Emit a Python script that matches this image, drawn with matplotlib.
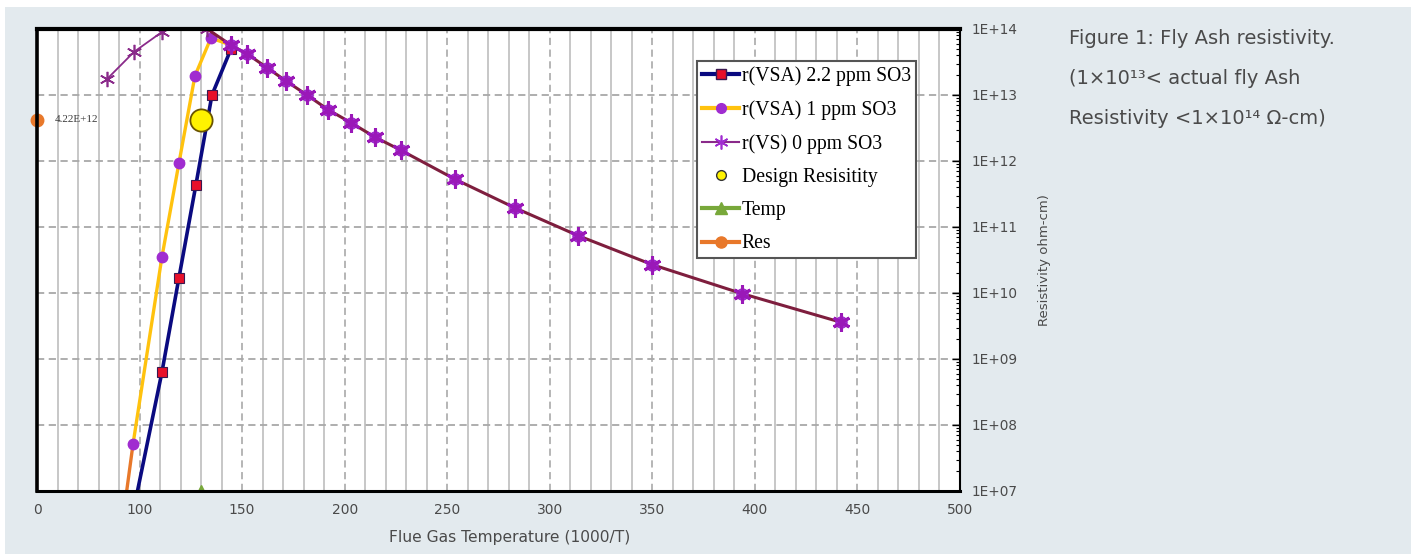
import matplotlib
matplotlib.use("Agg")
import matplotlib.pyplot as plt
from matplotlib.lines import Line2D
from matplotlib.patches import Rectangle
from matplotlib.ticker import LogLocator, NullFormatter, FixedLocator, MultipleLocator

# ---------------- data ----------------
# x axis positions (axis runs 50..500, first tick is labelled "0" in the source)
x_ticks = [50, 100, 150, 200, 250, 300, 350, 400, 450, 500]
x_tick_labels = ["0", "100", "150", "200", "250", "300", "350", "400", "450", "500"]
y_ticks = [1e7, 1e8, 1e9, 1e10, 1e11, 1e12, 1e13, 1e14]
y_tick_labels = ["1E+07", "1E+08", "1E+09", "1E+10", "1E+11", "1E+12", "1E+13", "1E+14"]

# r(VSA) 2.2 ppm SO3 (rising branch)
vsa22_x = [97.0, 110.9, 119.2, 127.5, 135.3, 144.6]
vsa22_y = [5.0e6, 6.3e8, 1.7e10, 4.4e11, 1.0e13, 5.0e13]

# r(VSA) 1 ppm SO3 (rising branch)
vsa1_x = [96.8, 110.9, 119.2, 127.0, 134.8]
vsa1_y = [5.1e7, 3.5e10, 9.3e11, 1.95e13, 7.3e13]

# r(VS) 0 ppm SO3 (rising branch)
vs0_x = [84.1, 97.3, 110.9, 122.0, 133.0]
vs0_y = [1.74e13, 4.5e13, 9.0e13, 1.5e14, 1.0e14]

# shared descending branch
tail_x = [144.6, 152.4, 162.1, 171.4, 181.6, 191.9, 203.1, 214.8, 227.5,
          253.8, 283.0, 313.8, 349.8, 393.7, 442.0]
tail_y = [5.7e13, 4.2e13, 2.6e13, 1.63e13, 1.0e13, 6.0e12, 3.8e12, 2.3e12, 1.45e12,
          5.3e11, 1.95e11, 7.4e10, 2.7e10, 9.8e9, 3.6e9]

# Res (orange) segment and point
res_line_x = [92.0, 96.8]
res_line_y = [4.0e6, 5.1e7]
res_x = [50]
res_y = [4.22e12]
res_label = "4.22E+12"

# Design resistivity
design_x = [130.0]
design_y = [4.22e12]

# Temp
temp_x = [130.0]
temp_y = [1.0e7]

legend_labels = ["r(VSA) 2.2 ppm SO3", "r(VSA) 1 ppm SO3", "r(VS) 0 ppm SO3",
                 "Design Resisitity", "Temp", "Res"]

caption_lines = ["Figure 1: Fly Ash resistivity.",
                 "(1×10¹³< actual fly Ash",
                 "Resistivity <1×10¹⁴ Ω-cm)"]

# ---------------- style ----------------
W, H = 1417, 557
BG = "#E3EAEE"
TXT = "#4A4A4A"
SANS = ["DejaVu Sans"]
SERIF = ["Liberation Serif", "DejaVu Serif"]

NAVY = "#0A0A80"
RED = "#E8102A"
YEL = "#FFC20E"
PUR_C = "#A02CD0"
PUR_S = "#8A2A8A"
MAROON = "#7E1E3E"
ORANGE = "#E8782A"
GREEN = "#78A83A"
STAR = (6, 2, 0)

fig = plt.figure(figsize=(W / 100, H / 100), dpi=100, facecolor="white")
fig.patches.append(Rectangle((5 / W, 3 / H), 1406 / W, 547 / H, transform=fig.transFigure,
                             facecolor=BG, edgecolor="none", zorder=-10))

ax = fig.add_axes([37 / W, (H - 491) / H, 923 / W, 462 / H])
ax.set_facecolor("white")
ax.set_yscale("log")
ax.set_xlim(50, 500)
ax.set_ylim(1e7, 1e14)

# grid
ax.xaxis.set_major_locator(FixedLocator(x_ticks))
ax.xaxis.set_minor_locator(MultipleLocator(10))
ax.set_xticklabels(x_tick_labels)
ax.grid(which="minor", axis="x", color="#BDBDBD", lw=1.2, ls="-", zorder=0)
ax.grid(which="major", axis="x", color="#B0B0B0", lw=1.3, ls=(0, (4, 2.5)), zorder=0)
ax.grid(which="major", axis="y", color="#A8A8A8", lw=1.3, ls=(0, (4, 2.5)), zorder=0)

ax.yaxis.set_major_locator(FixedLocator(y_ticks))
ax.yaxis.set_minor_locator(LogLocator(base=10, subs=range(2, 10)))
ax.yaxis.set_minor_formatter(NullFormatter())
ax.set_yticklabels(y_tick_labels)
ax.yaxis.tick_right()
ax.yaxis.set_label_position("right")
ax.tick_params(axis="y", which="major", direction="in", length=6, width=1, colors="black",
               labelcolor=TXT, labelsize=9.8, pad=8, left=False, right=True)
ax.tick_params(axis="y", which="minor", direction="in", length=3, width=0.8, left=False, right=True)
ax.tick_params(axis="x", which="both", direction="in", length=0, labelcolor=TXT, labelsize=10, pad=9)
for lab in ax.get_xticklabels() + ax.get_yticklabels():
    lab.set_family(SANS)

for side, lw in (("left", 2.6), ("top", 3.0), ("bottom", 2.2), ("right", 1.5)):
    ax.spines[side].set_linewidth(lw)
    ax.spines[side].set_color("black")
    ax.spines[side].set_zorder(6)

# series
ax.plot(res_line_x, res_line_y, color=ORANGE, lw=2.4, zorder=3)
ax.plot(vsa1_x + tail_x[:1], vsa1_y + tail_y[:1], color=YEL, lw=2.4, zorder=3)
ax.plot(vsa1_x, vsa1_y, ls="none", marker="o", ms=7.5, mfc=PUR_C, mec=PUR_C, zorder=4)
ax.plot(vsa22_x, vsa22_y, color=NAVY, lw=2.6, zorder=3)
ax.plot(vsa22_x, vsa22_y, ls="none", marker="s", ms=7, mfc=RED, mec="#3A1850", mew=0.8, zorder=4)
ax.plot(vs0_x, vs0_y, color=PUR_S, lw=1.3, zorder=3)
ax.plot(vs0_x, vs0_y, ls="none", marker=STAR, ms=11, mec=PUR_S, mew=1.2, zorder=4)
ax.plot(vs0_x[-1:] + tail_x, vs0_y[-1:] + tail_y, color=MAROON, lw=2.2, zorder=4)
ax.plot(tail_x, tail_y, ls="none", marker="o", ms=8, mfc=PUR_C, mec=PUR_C, zorder=5)
ax.plot(tail_x, tail_y, ls="none", marker=STAR, ms=13, mec="#9A18B8", mew=2.2, zorder=5)

ax.plot(design_x, design_y, ls="none", marker="o", ms=16, mfc="#FFF200", mec="#6A5400", mew=1.3, zorder=6)
ax.plot(temp_x, temp_y, ls="none", marker="^", ms=9, mfc=GREEN, mec=GREEN, zorder=5)
ax.plot(res_x, res_y, ls="none", marker="o", ms=9, mfc=ORANGE, mec=ORANGE, zorder=5, clip_on=False)
ax.annotate(res_label, (res_x[0], res_y[0]), xytext=(13, 0), textcoords="offset points",
            va="center", ha="left", fontsize=8, family=SERIF, color="#3A3A3A")

ax.set_xlabel("Flue Gas Temperature (1000/T)", fontsize=11.2, color=TXT, family=SANS, labelpad=8)
ax.xaxis.set_label_coords(0.5125, -0.085)
ax.set_ylabel("Resistivity ohm-cm)", fontsize=9.5, color=TXT, family=SANS, labelpad=15)

# legend
handles = [
    Line2D([], [], color=NAVY, lw=3, marker="s", ms=7, mfc=RED, mec="#3A1850"),
    Line2D([], [], color=YEL, lw=3, marker="o", ms=7, mfc=PUR_C, mec=PUR_C),
    Line2D([], [], color=PUR_S, lw=1.5, marker=STAR, ms=10, mec=PUR_C, mew=1.2),
    Line2D([], [], ls="none", marker="o", ms=7, mfc="#FFF200", mec="#333333"),
    Line2D([], [], color=GREEN, lw=3, marker="^", ms=8, mfc=GREEN, mec=GREEN),
    Line2D([], [], color=ORANGE, lw=3, marker="o", ms=8, mfc=ORANGE, mec=ORANGE),
]
leg = ax.legend(handles, legend_labels, loc="upper left", bbox_to_anchor=(0.715, 0.93),
                borderaxespad=0, fancybox=False, framealpha=1, edgecolor="#555555",
                prop={"family": SERIF, "size": 14.2}, handlelength=1.9, handletextpad=0.12,
                labelspacing=0.72, borderpad=0.25)
leg.get_frame().set_linewidth(1.5)
leg.set_zorder(8)

# caption
for i, line in enumerate(caption_lines):
    fig.text(1069 / W, 1 - (38 + 40.5 * i) / H, line, fontsize=14, color=TXT,
             family=SANS, va="center", ha="left")

fig.savefig("out.png", dpi=100, facecolor="white")
